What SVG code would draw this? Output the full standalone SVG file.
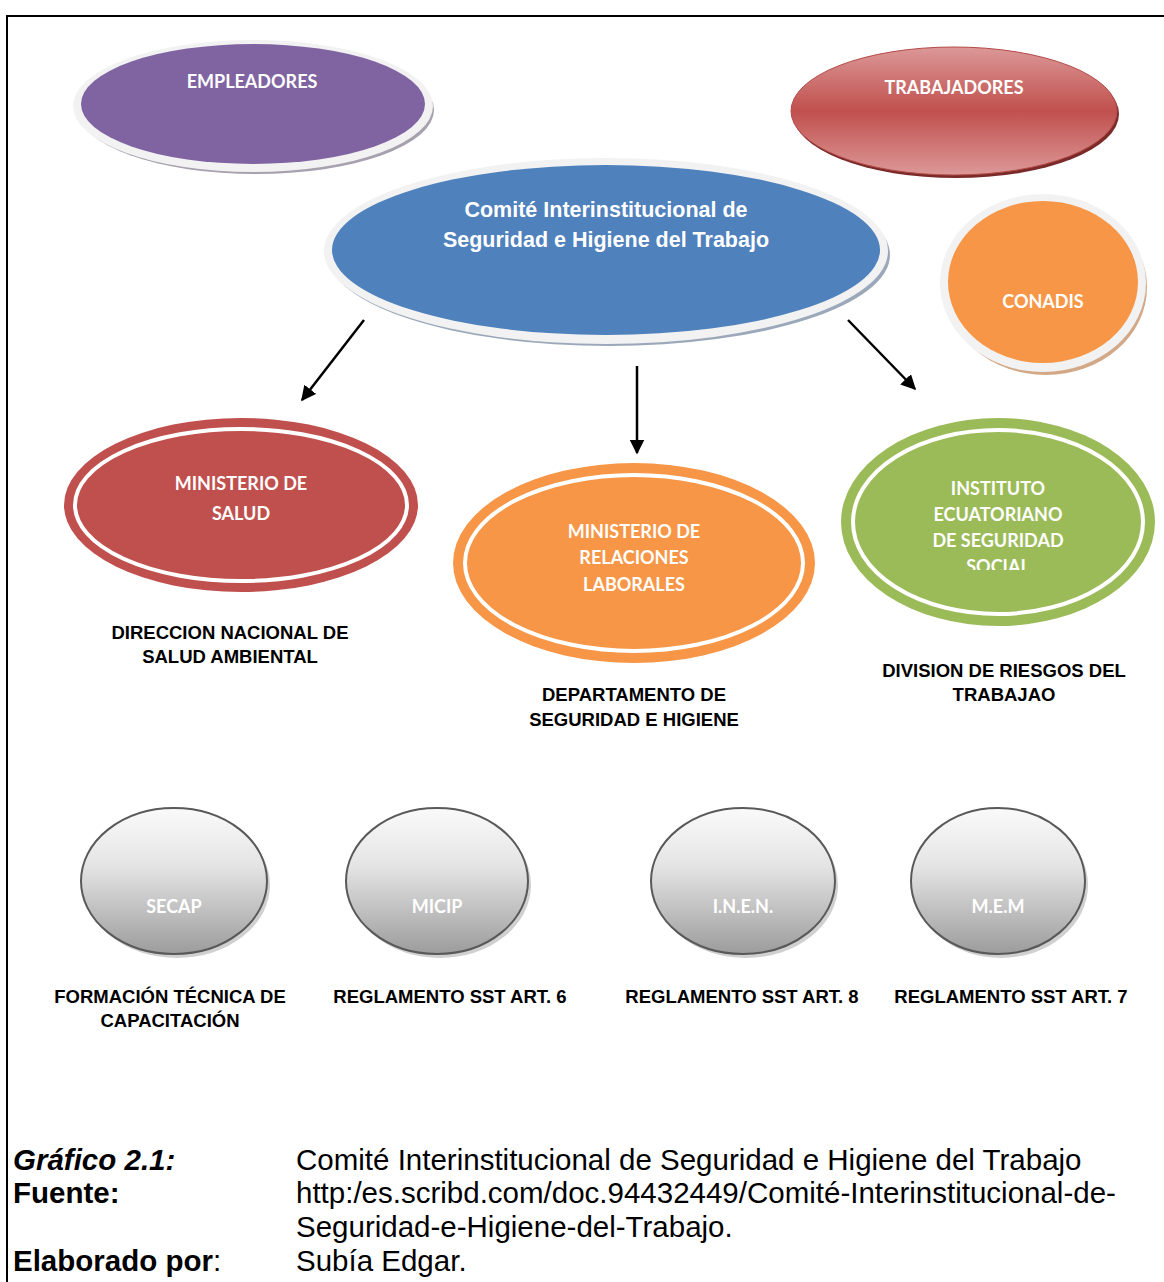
<svg xmlns="http://www.w3.org/2000/svg" width="1164" height="1282" viewBox="0 0 1164 1282">
<defs>
<style>
.nt{font-family:Lato,"Open Sans","Liberation Sans",sans-serif;font-weight:bold;fill:#fff;text-anchor:middle}
.lb{font-family:"Liberation Sans",Arial,sans-serif;font-weight:bold;font-size:18.5px;fill:#000;text-anchor:middle}
.cap{font-family:"Liberation Sans",Arial,sans-serif;font-size:29.5px;fill:#000}
.rim{fill:#f2f2f2}
.ring{fill:none;stroke:#fff;stroke-width:4}
.gc{fill:url(#gGrey);stroke:#595959;stroke-width:2}
.arr{stroke:#000;stroke-width:2.5;fill:none;marker-end:url(#ah)}
</style>
<linearGradient id="gRed" x1="0" y1="0" x2="0" y2="1">
<stop offset="0" stop-color="#dc9898"/>
<stop offset="0.5" stop-color="#c0504d"/>
<stop offset="1" stop-color="#dc9898"/>
</linearGradient>
<linearGradient id="gGrey" x1="0" y1="0" x2="0" y2="1">
<stop offset="0" stop-color="#fafafa"/>
<stop offset="0.4" stop-color="#e4e4e4"/>
<stop offset="1" stop-color="#9c9c9c"/>
</linearGradient>
<marker id="ah" viewBox="0 0 10 10" refX="9" refY="5" markerWidth="6" markerHeight="6" markerUnits="strokeWidth" orient="auto">
<path d="M0,0 L10,5 L0,10 z" fill="#000"/>
</marker>
<clipPath id="clipIess"><rect x="840" y="420" width="320" height="150"/></clipPath>
</defs>
<rect x="0" y="0" width="1164" height="1282" fill="#fff"/>
<path d="M7,1282 V16 H1164" fill="none" stroke="#000" stroke-width="2"/>

<g id="empleadores">
<ellipse cx="256" cy="110" rx="178" ry="64" fill="#a7a0ae"/>
<ellipse class="rim" cx="253" cy="106" rx="180" ry="66"/>
<ellipse cx="253" cy="104" rx="172" ry="60" fill="#8064a2"/>
<text class="nt" x="252" y="88" font-size="18">EMPLEADORES</text>
</g>

<g id="trabajadores">
<ellipse cx="956" cy="114" rx="163" ry="64" fill="#7a2b29"/>
<ellipse cx="954" cy="111" rx="163" ry="64" fill="url(#gRed)" stroke="#b34a47" stroke-width="1"/>
<text class="nt" x="954" y="94" font-size="18">TRABAJADORES</text>
</g>

<g id="comite">
<ellipse cx="609" cy="255" rx="281" ry="91" fill="#9aa8ba"/>
<ellipse class="rim" cx="606" cy="251" rx="282" ry="93"/>
<ellipse cx="606" cy="250" rx="274" ry="85" fill="#4f81bd"/>
<text x="606" y="217" font-family="'Liberation Sans',Arial,sans-serif" font-weight="bold" font-size="21.5" fill="#fff" text-anchor="middle">Comité Interinstitucional de</text>
<text x="606" y="247" font-family="'Liberation Sans',Arial,sans-serif" font-weight="bold" font-size="21.5" fill="#fff" text-anchor="middle">Seguridad e Higiene del Trabajo</text>
</g>

<g id="conadis">
<ellipse cx="1046" cy="287" rx="101" ry="88" fill="#d2a887"/>
<ellipse class="rim" cx="1043" cy="283" rx="103" ry="89"/>
<ellipse cx="1043" cy="282" rx="95" ry="81" fill="#f79646"/>
<text class="nt" x="1043" y="308" font-size="18">CONADIS</text>
</g>

<g id="ministerio-salud">
<ellipse cx="241" cy="505" rx="177" ry="87" fill="#c0504d"/>
<ellipse class="ring" cx="241" cy="505" rx="166" ry="76"/>
<text class="nt" x="241" y="490" font-size="18">MINISTERIO DE</text>
<text class="nt" x="241" y="520" font-size="18">SALUD</text>
</g>

<g id="ministerio-relaciones">
<ellipse cx="634" cy="563" rx="181" ry="100" fill="#f79646"/>
<ellipse class="ring" cx="634" cy="563" rx="169" ry="88"/>
<text class="nt" x="634" y="538" font-size="18">MINISTERIO DE</text>
<text class="nt" x="634" y="564" font-size="18">RELACIONES</text>
<text class="nt" x="634" y="591" font-size="18">LABORALES</text>
</g>

<g id="iess">
<ellipse cx="998" cy="522" rx="157" ry="104" fill="#9bbb59"/>
<ellipse class="ring" cx="998" cy="522" rx="145" ry="92"/>
<g clip-path="url(#clipIess)">
<text class="nt" x="998" y="495" font-size="18">INSTITUTO</text>
<text class="nt" x="998" y="521" font-size="18">ECUATORIANO</text>
<text class="nt" x="998" y="547" font-size="18">DE SEGURIDAD</text>
<text class="nt" x="998" y="573" font-size="18">SOCIAL</text>
</g>
</g>

<g id="connectors">
<line class="arr" x1="364" y1="320" x2="302" y2="400"/>
<line class="arr" x1="637" y1="366" x2="637" y2="453"/>
<line class="arr" x1="848" y1="320" x2="915" y2="389"/>
</g>

<g id="lbl-salud">
<text class="lb" x="230" y="639">DIRECCION NACIONAL DE</text>
<text class="lb" x="230" y="663">SALUD AMBIENTAL</text>
</g>
<g id="lbl-relaciones">
<text class="lb" x="634" y="701">DEPARTAMENTO DE</text>
<text class="lb" x="634" y="726">SEGURIDAD E HIGIENE</text>
</g>
<g id="lbl-iess">
<text class="lb" x="1004" y="677">DIVISION DE RIESGOS DEL</text>
<text class="lb" x="1004" y="701">TRABAJAO</text>
</g>

<g id="secap">
<ellipse cx="177" cy="885" rx="93" ry="73" fill="#d0d0d0"/>
<ellipse class="gc" cx="174" cy="881" rx="93" ry="73"/>
<text class="nt" x="174" y="913" font-size="18">SECAP</text>
</g>
<g id="micip">
<ellipse cx="440" cy="885" rx="91" ry="73" fill="#d0d0d0"/>
<ellipse class="gc" cx="437" cy="881" rx="91" ry="73"/>
<text class="nt" x="437" y="913" font-size="18">MICIP</text>
</g>
<g id="inen">
<ellipse cx="746" cy="885" rx="92" ry="73" fill="#d0d0d0"/>
<ellipse class="gc" cx="743" cy="881" rx="92" ry="73"/>
<text class="nt" x="743" y="913" font-size="18">I.N.E.N.</text>
</g>
<g id="mem">
<ellipse cx="1001" cy="885" rx="87" ry="73" fill="#d0d0d0"/>
<ellipse class="gc" cx="998" cy="881" rx="87" ry="73"/>
<text class="nt" x="998" y="913" font-size="18">M.E.M</text>
</g>

<g id="lbl-bottom">
<text class="lb" x="170" y="1003">FORMACIÓN TÉCNICA DE</text>
<text class="lb" x="170" y="1027">CAPACITACIÓN</text>
<text class="lb" x="450" y="1003">REGLAMENTO SST ART. 6</text>
<text class="lb" x="742" y="1003">REGLAMENTO SST ART. 8</text>
<text class="lb" x="1011" y="1003">REGLAMENTO SST ART. 7</text>
</g>

<g id="caption">
<text class="cap" x="13" y="1170" font-weight="bold" font-style="italic">Gráfico 2.1:</text>
<text class="cap" x="296" y="1170">Comité Interinstitucional de Seguridad e Higiene del Trabajo</text>
<text class="cap" x="13" y="1203" font-weight="bold">Fuente:</text>
<text class="cap" x="296" y="1203">http:/es.scribd.com/doc.94432449/Comité-Interinstitucional-de-</text>
<text class="cap" x="296" y="1237">Seguridad-e-Higiene-del-Trabajo.</text>
<text class="cap" x="13" y="1271"><tspan font-weight="bold">Elaborado por</tspan>:</text>
<text class="cap" x="296" y="1271">Subía Edgar.</text>
</g>
</svg>
